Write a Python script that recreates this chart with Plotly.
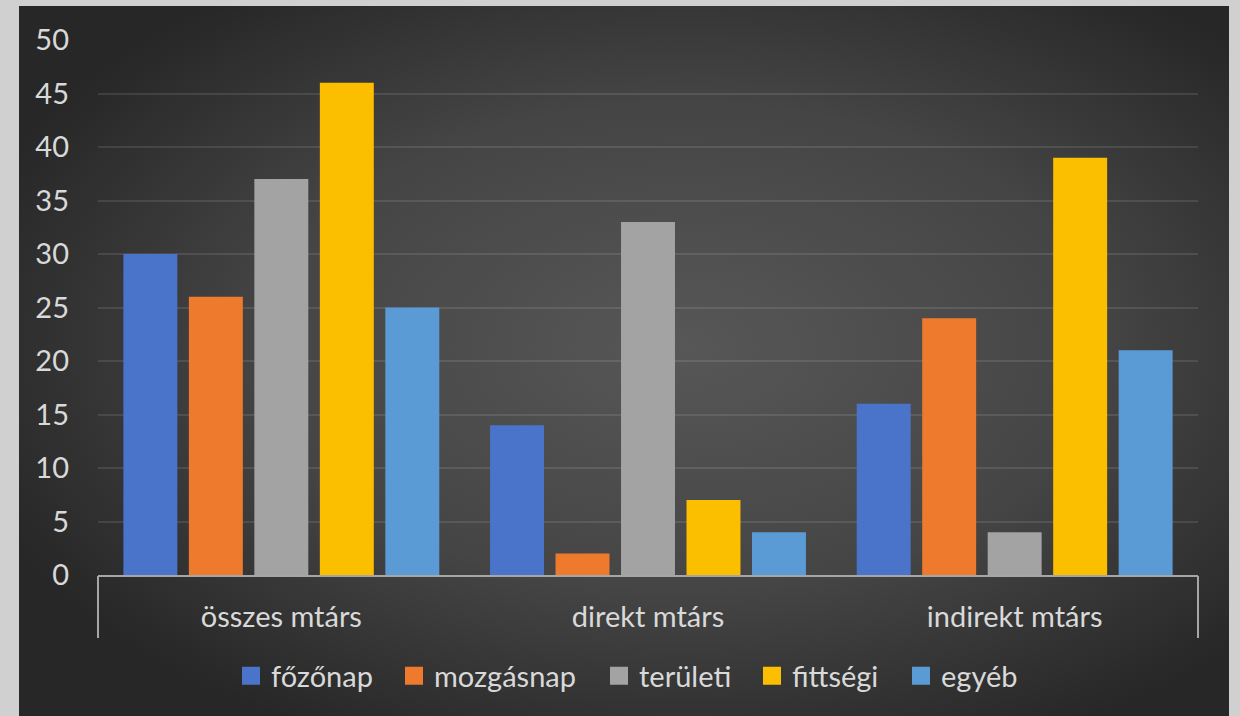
import base64
import plotly.graph_objects as go

categories = ["összes mtárs", "direkt mtárs", "indirekt mtárs"]
series_names = ["főzőnap", "mozgásnap", "területi", "fittségi", "egyéb"]
fozonap = [30, 14, 16]
mozgasnap = [26, 2, 24]
teruleti = [37, 33, 4]
fittsegi = [46, 7, 39]
egyeb = [25, 4, 21]
y_ticks = [0, 5, 10, 15, 20, 25, 30, 35, 40, 45, 50]

colors = ["#4a74c9", "#ee7a2e", "#a3a3a3", "#fcbf00", "#5b9bd5"]
series_values = [fozonap, mozgasnap, teruleti, fittsegi, egyeb]

FONT = "Lato"
TXT = "#d9d9d9"
FS = 29

L, R, T, B = 98, 42, 40, 141
W, H = 1240, 716
pw, ph = W - L - R, H - T - B

# legend item left pixel positions (layout)
legend_px = [243, 406, 611, 764, 913]

svg = """<svg xmlns='http://www.w3.org/2000/svg' width='1210' height='710' preserveAspectRatio='none'>
<defs><radialGradient id='g' cx='0.55' cy='0.48' r='0.62' fx='0.55' fy='0.48'>
<stop offset='0' stop-color='#575757'/><stop offset='0.55' stop-color='#454545'/><stop offset='1' stop-color='#272727'/>
</radialGradient></defs><rect width='1210' height='710' fill='url(#g)'/></svg>"""
bg_src = "data:image/svg+xml;base64," + base64.b64encode(svg.encode()).decode()

xpos = list(range(len(categories)))

fig = go.Figure()
for name, vals, col in zip(series_names, series_values, colors):
    fig.add_trace(go.Bar(x=xpos, y=vals, name=name, showlegend=False,
                         legendgroup=name, marker=dict(color=col, line=dict(width=0))))

legend_layouts = {}
for i, (name, col) in enumerate(zip(series_names, colors)):
    lname = "legend" if i == 0 else f"legend{i + 1}"
    fig.add_trace(go.Scatter(x=[None], y=[None], name=name, legendgroup=name, mode="markers",
                             legend=lname,
                             marker=dict(symbol="square", size=16, color=col,
                                         line=dict(color=col, width=2))))
    legend_layouts[lname] = dict(
        orientation="h", x=(legend_px[i] - 12 - L) / pw, xanchor="left",
        y=-0.141, yanchor="top", font=dict(size=FS, color=TXT),
        bgcolor="rgba(0,0,0,0)", itemwidth=30)

# invisible trace to carry secondary x-axis (edge tick marks)
fig.add_trace(go.Scatter(x=[-0.5, 2.5], y=[0, 0], xaxis="x2", mode="markers",
                         marker=dict(opacity=0), showlegend=False, hoverinfo="skip"))

fig.update_layout(
    width=W, height=H,
    margin=dict(l=L, r=R, t=T, b=B, autoexpand=False),
    paper_bgcolor="#d0d0d0",
    plot_bgcolor="rgba(0,0,0,0)",
    barmode="group",
    bargap=0.107,
    bargroupgap=0.176,
    font=dict(family=FONT, color=TXT, size=FS),
    images=[dict(source=bg_src, xref="paper", yref="paper",
                 x=(19 - L) / pw, y=(T + ph - 6) / ph,
                 sizex=(1229 - 19) / pw, sizey=(716 - 6) / ph,
                 xanchor="left", yanchor="top", sizing="stretch", layer="below")],
    xaxis=dict(range=[-0.5, 2.5], tickvals=xpos, ticktext=categories,
               showgrid=False, zeroline=False, showline=True, linecolor="#a6a6a6", linewidth=2,
               ticks="", ticklabelstandoff=15, tickfont=dict(size=FS, color=TXT)),
    xaxis2=dict(range=[-0.5, 2.5], overlaying="x", side="bottom", anchor="y",
                tickvals=[-0.5, 2.5], ticktext=["", ""], ticks="outside", ticklen=62,
                tickwidth=2, tickcolor="#a6a6a6", showgrid=False, zeroline=False, showline=False),
    yaxis=dict(range=[0, 50], tickvals=y_ticks, showgrid=True,
               gridcolor="rgba(255,255,255,0.1)", gridwidth=2, zeroline=False,
               ticks="", ticklabelstandoff=28, tickfont=dict(size=FS, color=TXT)),
    **legend_layouts,
)

fig.write_html("out.html", config={"displayModeBar": False},
               post_script="document.body.style.margin='0';document.body.style.overflow='hidden';")
